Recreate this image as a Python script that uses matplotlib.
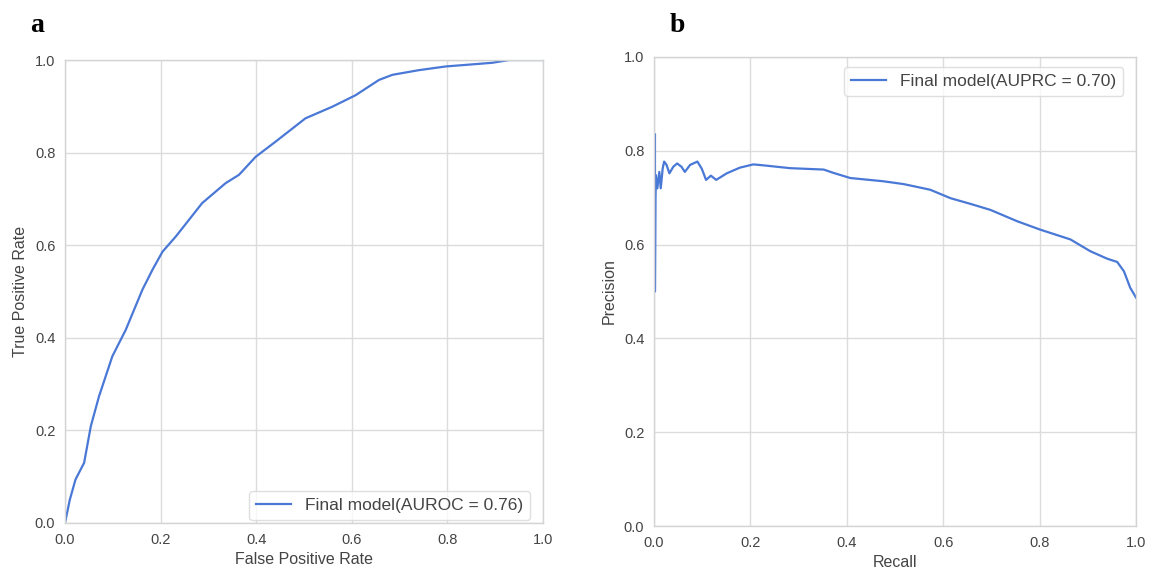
import numpy as np
import matplotlib
matplotlib.use("Agg")
import matplotlib.pyplot as plt

# ROC curve (panel a)
fpr = [0.0, 0.010, 0.022, 0.040, 0.054, 0.071, 0.099, 0.127, 0.162, 0.183, 0.204,
       0.232, 0.287, 0.336, 0.364, 0.399, 0.441, 0.503, 0.559, 0.608, 0.657, 0.685,
       0.740, 0.796, 0.894, 0.929, 1.0]
tpr = [0.0, 0.05, 0.094, 0.13, 0.209, 0.273, 0.36, 0.417, 0.504, 0.547, 0.586,
       0.619, 0.691, 0.734, 0.752, 0.791, 0.824, 0.874, 0.899, 0.924, 0.957, 0.968,
       0.978, 0.986, 0.994, 1.0, 1.0]

# PR curve (panel b)
recall = [0.002, 0.002, 0.003, 0.004, 0.007, 0.011, 0.014, 0.018, 0.021, 0.026, 0.032,
          0.040, 0.048, 0.057, 0.064, 0.075, 0.090, 0.099, 0.108, 0.118, 0.129,
          0.151, 0.178, 0.206, 0.227, 0.282, 0.352, 0.372, 0.407, 0.476, 0.518,
          0.573, 0.615, 0.656, 0.698, 0.753, 0.801, 0.864, 0.905, 0.940, 0.961,
          0.975, 0.988, 1.0]
precision = [0.835, 0.50, 0.70, 0.748, 0.72, 0.755, 0.72, 0.762, 0.777, 0.770, 0.752,
             0.766, 0.773, 0.766, 0.755, 0.770, 0.777, 0.762, 0.738, 0.747, 0.738,
             0.752, 0.764, 0.771, 0.769, 0.763, 0.760, 0.753, 0.742, 0.735, 0.729,
             0.717, 0.699, 0.687, 0.674, 0.650, 0.632, 0.611, 0.586, 0.570, 0.563,
             0.543, 0.508, 0.487]

ticks = [0.0, 0.2, 0.4, 0.6, 0.8, 1.0]
tick_labels = ['0.0', '0.2', '0.4', '0.6', '0.8', '1.0']

plt.rcParams['font.family'] = ['Liberation Sans', 'DejaVu Sans']
blue = '#4a78d6'
grid_c = '#dcdcdc'
text_c = '#444444'

fig = plt.figure(figsize=(11.55, 5.70), dpi=100)
ax1 = fig.add_axes([65/1155, 1-523/570, 478/1155, 463/570])
ax2 = fig.add_axes([654/1155, 1-526/570, 482/1155, 469/570])

ax1.plot(fpr, tpr, color=blue, lw=1.6, label='Final model(AUROC = 0.76)')
ax2.plot(recall, precision, color=blue, lw=1.6, label='Final model(AUPRC = 0.70)')

for ax in (ax1, ax2):
    ax.set_xlim(0, 1)
    ax.set_ylim(0, 1)
    ax.set_xticks(ticks)
    ax.set_xticklabels(tick_labels)
    ax.set_yticks(ticks)
    ax.set_yticklabels(tick_labels)
    ax.grid(True, color=grid_c, lw=1.0)
    ax.set_axisbelow(True)
    ax.tick_params(length=0, labelsize=10.5, colors=text_c, pad=7)
    for s in ax.spines.values():
        s.set_color('#d4d4d4')
        s.set_linewidth(1.0)

ax1.set_xlabel('False Positive Rate', fontsize=11.5, color=text_c, labelpad=4)
ax1.set_ylabel('True Positive Rate', fontsize=11.5, color=text_c, labelpad=5)
ax2.set_xlabel('Recall', fontsize=11.5, color=text_c, labelpad=4)
ax2.set_ylabel('Precision', fontsize=11.5, color=text_c, labelpad=5)

leg1 = ax1.legend(loc='lower right', bbox_to_anchor=(0.973, 0.006), fontsize=12.5,
                  frameon=True, handlelength=2.0, borderaxespad=0)
leg2 = ax2.legend(loc='upper right', bbox_to_anchor=(0.973, 0.979), fontsize=12.5,
                  frameon=True, handlelength=2.0, borderaxespad=0)
for leg in (leg1, leg2):
    leg.get_frame().set_edgecolor('#d8d8d8')
    for t in leg.get_texts():
        t.set_color(text_c)

fig.text(30/1155, 1-25/570, 'a', fontsize=20, fontweight='bold',
         family='Liberation Serif', ha='left', va='center')
fig.text(670/1155, 1-25/570, 'b', fontsize=20, fontweight='bold',
         family='Liberation Serif', ha='left', va='center')

fig.savefig('out.png', dpi=100)
